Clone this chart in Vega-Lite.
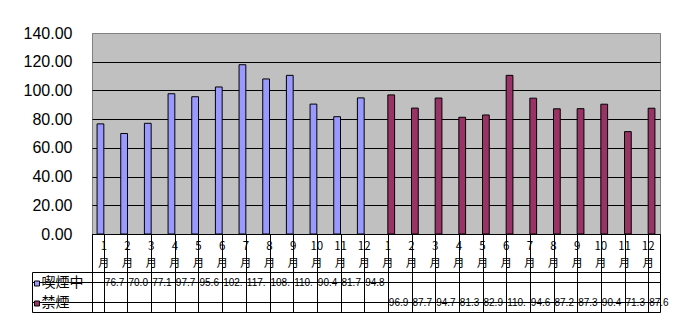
{
  "$schema": "https://vega.github.io/schema/vega-lite/v6.json",
  "background": "white",
  "padding": {"left": 22, "top": 24, "right": 17, "bottom": 19},
  "columns": 2,
  "spacing": 0,
  "bounds": "flush",
  "datasets": {
    "d": [
      {"cat": 1, "month": 1, "series": "喫煙中", "value": 76.7},
      {"cat": 2, "month": 2, "series": "喫煙中", "value": 70.0},
      {"cat": 3, "month": 3, "series": "喫煙中", "value": 77.1},
      {"cat": 4, "month": 4, "series": "喫煙中", "value": 97.7},
      {"cat": 5, "month": 5, "series": "喫煙中", "value": 95.6},
      {"cat": 6, "month": 6, "series": "喫煙中", "value": 102.4},
      {"cat": 7, "month": 7, "series": "喫煙中", "value": 117.9},
      {"cat": 8, "month": 8, "series": "喫煙中", "value": 108.0},
      {"cat": 9, "month": 9, "series": "喫煙中", "value": 110.5},
      {"cat": 10, "month": 10, "series": "喫煙中", "value": 90.48},
      {"cat": 11, "month": 11, "series": "喫煙中", "value": 81.7},
      {"cat": 12, "month": 12, "series": "喫煙中", "value": 94.8},
      {"cat": 13, "month": 1, "series": "禁煙", "value": 96.9},
      {"cat": 14, "month": 2, "series": "禁煙", "value": 87.7},
      {"cat": 15, "month": 3, "series": "禁煙", "value": 94.7},
      {"cat": 16, "month": 4, "series": "禁煙", "value": 81.3},
      {"cat": 17, "month": 5, "series": "禁煙", "value": 82.9},
      {"cat": 18, "month": 6, "series": "禁煙", "value": 110.5},
      {"cat": 19, "month": 7, "series": "禁煙", "value": 94.6},
      {"cat": 20, "month": 8, "series": "禁煙", "value": 87.2},
      {"cat": 21, "month": 9, "series": "禁煙", "value": 87.3},
      {"cat": 22, "month": 10, "series": "禁煙", "value": 90.4},
      {"cat": 23, "month": 11, "series": "禁煙", "value": 71.3},
      {"cat": 24, "month": 12, "series": "禁煙", "value": 87.6}
    ],
    "legend": [
      {"series": "喫煙中"},
      {"series": "禁煙"}
    ]
  },
  "config": {
    "view": {"stroke": "black", "strokeWidth": 1},
    "axis": {"gridColor": "black", "gridOpacity": 1, "gridWidth": 1}
  },
  "concat": [
    {
      "width": 1, "height": 1,
      "view": {"stroke": null, "fill": null},
      "data": {"name": "legend"},
      "mark": {"type": "point", "opacity": 0},
      "encoding": {}
    },
    {
      "width": 568, "height": 201,
      "view": {"fill": "#C0C0C0", "stroke": "#808080"},
      "data": {"name": "d"},
      "mark": {"type": "bar", "stroke": "black", "strokeWidth": 1},
      "encoding": {
        "x": {
          "field": "cat", "type": "ordinal",
          "scale": {"paddingInner": 0, "paddingOuter": 0},
          "axis": {
            "labelExpr": "['' + ((datum.value - 1) % 12 + 1), '月']",
            "labelAngle": 0,
            "labelPadding": 6,
            "labelBaseline": "top",
            "labelLineHeight": 17,
            "labelFont": "Noto Sans CJK JP", "labelFontSize": 11.5, "labelColor": "black",
            "labelOverlap": false,
            "ticks": false, "domain": false, "grid": false,
            "title": null
          }
        },
        "xOffset": {"field": "series", "type": "nominal", "scale": {"domain": ["喫煙中", "禁煙"], "paddingInner": 0, "paddingOuter": 0.75}},
        "y": {
          "field": "value", "type": "quantitative",
          "scale": {"domain": [0, 140], "nice": false},
          "axis": {
            "values": [0, 20, 40, 60, 80, 100, 120, 140],
            "format": ".2f",
            "grid": true,
            "gridColor": {"condition": {"test": "datum.value === 140", "value": "#808080"}, "value": "black"},
            "domain": false, "ticks": false,
            "labelPadding": 20,
            "labelFont": "Liberation Sans", "labelFontSize": 16, "labelColor": "black",
            "title": null
          }
        },
        "color": {"field": "series", "type": "nominal", "scale": {"domain": ["喫煙中", "禁煙"], "range": ["#9999FF", "#993366"]}, "legend": null}
      }
    },
    {
      "width": 1, "height": 1,
      "view": {"stroke": null, "fill": null},
      "data": {"name": "legend"},
      "mark": {"type": "point", "opacity": 0},
      "encoding": {}
    },
    {
      "width": 568, "height": 38,
      "data": {"name": "d"},
      "mark": {"type": "point", "opacity": 0},
      "encoding": {
        "x": {"field": "cat", "type": "ordinal", "scale": {"paddingInner": 0, "paddingOuter": 0},
              "axis": {"grid": true, "bandPosition": 0, "labels": false, "ticks": false, "domain": false, "title": null}}
      }
    },
    {
      "width": 60, "height": 40,
      "data": {"name": "legend"},
      "encoding": {
        "y": {"field": "series", "type": "nominal", "scale": {"domain": ["喫煙中", "禁煙"], "paddingInner": 0, "paddingOuter": 0},
              "axis": {"grid": true, "bandPosition": 0, "labels": false, "ticks": false, "domain": false, "title": null}}
      },
      "layer": [
        {"mark": {"type": "point", "shape": "square", "filled": true, "size": 25, "stroke": "black", "strokeWidth": 1, "opacity": 1, "xOffset": -25, "yOffset": 1.5},
         "encoding": {"color": {"field": "series", "type": "nominal", "scale": {"domain": ["喫煙中", "禁煙"], "range": ["#9999FF", "#993366"]}, "legend": null}}},
        {"mark": {"type": "text", "align": "left", "dx": -20.5, "dy": 1, "font": "Noto Sans CJK JP", "fontSize": 14, "color": "black"},
         "encoding": {"text": {"field": "series"}}}
      ]
    },
    {
      "width": 568, "height": 40,
      "data": {"name": "d"},
      "mark": {"type": "text", "align": "left", "dx": 1, "dy": 1, "font": "Liberation Sans", "fontSize": 10, "limit": 24, "ellipsis": "\u200b", "color": "black"},
      "encoding": {
        "x": {"field": "cat", "type": "ordinal", "bandPosition": 0, "scale": {"paddingInner": 0, "paddingOuter": 0},
              "axis": {"grid": true, "bandPosition": 0, "labels": false, "ticks": false, "domain": false, "title": null}},
        "y": {"field": "series", "type": "nominal", "scale": {"domain": ["喫煙中", "禁煙"], "paddingInner": 0, "paddingOuter": 0},
              "axis": {"grid": true, "bandPosition": 0, "labels": false, "ticks": false, "domain": false, "title": null}},
        "text": {"field": "value", "type": "quantitative", "format": ".2f"}
      }
    }
  ]
}
